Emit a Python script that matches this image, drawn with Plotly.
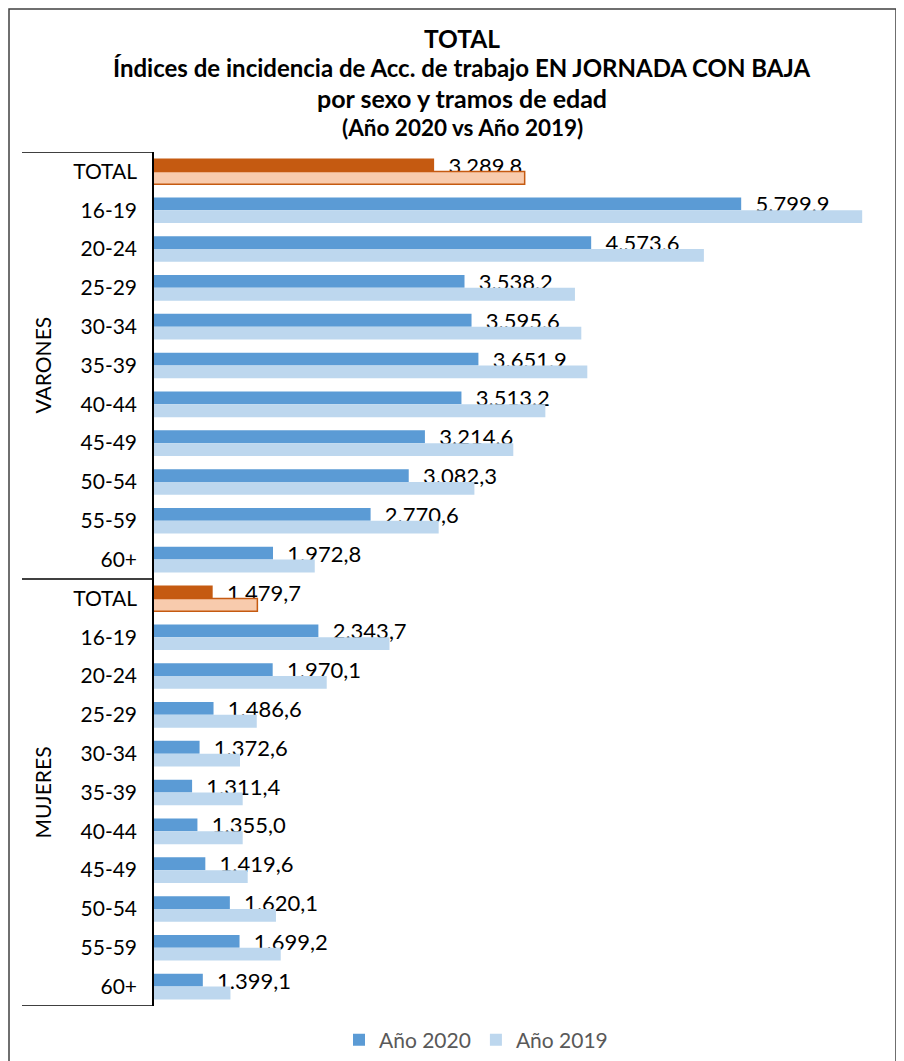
import plotly.graph_objects as go

# ---------------- data ----------------
age_groups = ["TOTAL", "16-19", "20-24", "25-29", "30-34", "35-39",
              "40-44", "45-49", "50-54", "55-59", "60+"]
group_names = ["VARONES", "MUJERES"]

varones_2020 = [3289.8, 5799.9, 4573.6, 3538.2, 3595.6, 3651.9,
                3513.2, 3214.6, 3082.3, 2770.6, 1972.8]
varones_2019 = [4030, 6789, 5495, 4441, 4493, 4542,
                4199, 3937, 3619, 3327, 2314]
mujeres_2020 = [1479.7, 2343.7, 1970.1, 1486.6, 1372.6, 1311.4,
                1355.0, 1419.6, 1620.1, 1699.2, 1399.1]
mujeres_2019 = [1845, 2925, 2412, 1840, 1703, 1725,
                1725, 1766, 1997, 2036, 1625]

series_names = ["Año 2020", "Año 2019"]
title_lines = ["TOTAL",
               "Índices de incidencia de Acc. de trabajo EN JORNADA CON BAJA",
               "por sexo y tramos de edad",
               "(Año 2020 vs Año 2019)"]

# ---------------- build ----------------
labels = age_groups + age_groups
vals_2020 = varones_2020 + mujeres_2020
vals_2019 = varones_2019 + mujeres_2019
ypos = list(range(len(labels)))
is_total = [lab == "TOTAL" for lab in labels]

C20 = "#5B9BD5"
C19 = "#BDD7EE"
T20 = "#C55A11"
T19 = "#F8CBAD"

col20 = [T20 if t else C20 for t in is_total]
col19 = [T19 if t else C19 for t in is_total]
lc19 = [T20 if t else C19 for t in is_total]
lw19 = [1.5 if t else 0 for t in is_total]

FONT = "Lato"
OFF = 8  # page body margin
W, H = 896, 1053
L, R, T, B = 146, 16, 144, 55
pw = W - L - R
ph = H - T - B


def px_x(page_x):
    return (page_x - OFF - L) / pw


def px_y(page_y):
    return (H - B - (page_y - OFF)) / ph


BW = 0.33
fig = go.Figure()
fig.add_trace(go.Bar(
    x=vals_2020, y=ypos, orientation="h", name=series_names[0],
    width=BW, offset=-BW, marker=dict(color=col20, line=dict(width=0)),
    texttemplate="\u00a0\u00a0%{x:,.1f}", textposition="outside",
    constraintext="none", textfont=dict(family=FONT, size=22, color="#000000"),
    showlegend=False, hoverinfo="x+y"))
fig.add_trace(go.Bar(
    x=vals_2019, y=ypos, orientation="h", name=series_names[1],
    width=BW, offset=0, marker=dict(color=col19, line=dict(color=lc19, width=lw19)),
    showlegend=False, hoverinfo="x+y"))
# legend entries
fig.add_trace(go.Bar(x=[None], y=[None], name=series_names[0], marker_color=C20,
                     orientation="h"))
fig.add_trace(go.Bar(x=[None], y=[None], name=series_names[1], marker_color=C19,
                     orientation="h"))

n = len(labels)
half = len(age_groups)
shapes = []
for yv in [-0.5, half - 0.5, n - 0.5]:
    shapes.append(dict(type="line", xref="paper", yref="y",
                       x0=px_x(22), x1=0, y0=yv, y1=yv,
                       line=dict(color="#000000", width=1.5)))
shapes.append(dict(type="rect", xref="paper", yref="paper",
                   x0=px_x(9), x1=px_x(896), y0=px_y(1075), y1=px_y(9),
                   line=dict(color="#404040", width=1.5), fillcolor="rgba(0,0,0,0)"))

annotations = []
for gi, g in enumerate(group_names):
    annotations.append(dict(text=g, xref="paper", yref="y", x=px_x(42),
                            y=gi * half + (half - 1) / 2, textangle=-90,
                            showarrow=False, xanchor="center", yanchor="middle",
                            font=dict(family=FONT, size=21, color="#000000")))
title_y = [38, 67, 98, 127]
title_sz = [24.5, 24, 25, 22.5]
for txt, py, sz in zip(title_lines, title_y, title_sz):
    annotations.append(dict(text="<b>" + txt + "</b>", xref="paper", yref="paper",
                            x=px_x(462), y=px_y(py), showarrow=False,
                            xanchor="center", yanchor="middle",
                            font=dict(family=FONT, size=sz, color="#000000")))

fig.update_layout(
    template="none",
    width=W, height=H, margin=dict(l=L, r=R, t=T, b=B, autoexpand=False),
    barmode="overlay", separators=",.",
    plot_bgcolor="white", paper_bgcolor="white",
    shapes=shapes, annotations=annotations,
    legend=dict(orientation="h", x=px_x(476), xanchor="center",
                y=px_y(1040), yanchor="middle",
                font=dict(family=FONT, size=21, color="#595959"),
                bgcolor="rgba(0,0,0,0)"),
    xaxis=dict(range=[1000, 7000], showgrid=False, zeroline=False,
               showticklabels=False, showline=False, ticks="", automargin=False),
    yaxis=dict(range=[n - 0.5, -0.5], tickvals=ypos, ticktext=labels,
               showgrid=False, zeroline=False, showline=True,
               linecolor="#000000", linewidth=1.5, ticks="",
               ticklabelstandoff=11, automargin=False,
               tickfont=dict(family=FONT, size=21, color="#000000")),
)

fig.write_html("out.html")
